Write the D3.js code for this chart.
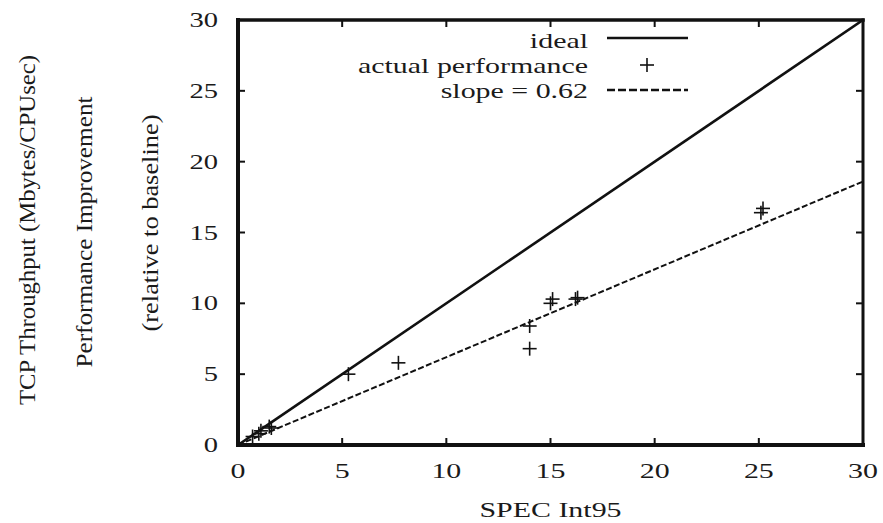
<!DOCTYPE html>
<html>
<head>
<meta charset="utf-8">
<script src="https://cdn.jsdelivr.net/npm/d3@7"></script>
<style>
  body { margin: 0; background: #fff; }
  text { font-family: "Liberation Serif", "DejaVu Serif", serif; fill: #1a1a1a; }
</style>
</head>
<body>
<div id="chart"></div>
<script>
// SPEC Int95 vs performance improvement

// measured points (x = SPEC Int95, y = improvement)
let specInt = [0.7, 1.0, 1.1, 1.5, 1.6, 5.3, 7.7, 14.0, 14.0, 15.0, 15.1, 16.2, 16.3, 25.1, 25.2];
let improvement = [0.6, 0.8, 1.0, 1.3, 1.2, 5.0, 5.8, 8.4, 6.8, 10.0, 10.3, 10.3, 10.4, 16.4, 16.7];

// fitted slope and axis stuff
let slope = 0.62;
let xTicks = [0, 5, 10, 15, 20, 25, 30];
let yTicks = [0, 5, 10, 15, 20, 25, 30];
let legendLabels = ["ideal", "actual performance", "slope = 0.62"];

let W = 883, H = 523;
let plotL = 238, plotR = 863, plotT = 20, plotB = 445;
let stretch = 1.36; // the figure's text is wide

let svg = d3.select("#chart").append("svg")
  .attr("width", W)
  .attr("height", H);

let x = d3.scaleLinear().domain([0, 30]).range([plotL, plotR]);
let y = d3.scaleLinear().domain([0, 30]).range([plotB, plotT]);

// clip to plot area
svg.append("clipPath").attr("id", "plot")
  .append("rect")
  .attr("x", plotL).attr("y", plotT)
  .attr("width", plotR - plotL).attr("height", plotB - plotT);

// tick marks (inward, all four sides)
let tickLen = 7;
let ticks = svg.append("g").attr("stroke", "#111").attr("stroke-width", 2);
xTicks.forEach(function(t) {
  ticks.append("line").attr("x1", x(t)).attr("x2", x(t)).attr("y1", plotB).attr("y2", plotB - tickLen);
  ticks.append("line").attr("x1", x(t)).attr("x2", x(t)).attr("y1", plotT).attr("y2", plotT + tickLen);
});
yTicks.forEach(function(t) {
  ticks.append("line").attr("x1", plotL).attr("x2", plotL + tickLen).attr("y1", y(t)).attr("y2", y(t));
  ticks.append("line").attr("x1", plotR).attr("x2", plotR - tickLen).attr("y1", y(t)).attr("y2", y(t));
});

// ideal line y = x
let line = d3.line().x(d => x(d[0])).y(d => y(d[1]));
svg.append("path")
  .attr("clip-path", "url(#plot)")
  .attr("d", line([[0, 0], [30, 30]]))
  .attr("fill", "none")
  .attr("stroke", "#111")
  .attr("stroke-width", 2.6);

// fitted line
svg.append("path")
  .attr("clip-path", "url(#plot)")
  .attr("d", line([[0, 0], [30, 30 * slope]]))
  .attr("fill", "none")
  .attr("stroke", "#111")
  .attr("stroke-width", 2)
  .attr("stroke-dasharray", "6,2.5");

// crosses for the actual performance
function cross(g, cx, cy, s) {
  g.append("line").attr("x1", cx - s).attr("x2", cx + s).attr("y1", cy).attr("y2", cy);
  g.append("line").attr("x1", cx).attr("x2", cx).attr("y1", cy - s).attr("y2", cy + s);
}
let pts = svg.append("g").attr("stroke", "#111").attr("stroke-width", 1.6);
specInt.forEach(function(d, i) {
  cross(pts, x(d), y(improvement[i]), 7);
});

// frame
let frame = svg.append("g").attr("stroke", "#111").attr("stroke-linecap", "square");
frame.append("line").attr("x1", plotL).attr("x2", plotL).attr("y1", plotT).attr("y2", plotB).attr("stroke-width", 4);
frame.append("line").attr("x1", plotL).attr("x2", plotR).attr("y1", plotB).attr("y2", plotB).attr("stroke-width", 4);
frame.append("line").attr("x1", plotL).attr("x2", plotR).attr("y1", plotT).attr("y2", plotT).attr("stroke-width", 3.5);
frame.append("line").attr("x1", plotR).attr("x2", plotR).attr("y1", plotT).attr("y2", plotB).attr("stroke-width", 3);

// wide text helper
function wideText(tx, ty, str, anchor, size) {
  return svg.append("text")
    .attr("transform", "translate(" + tx + "," + ty + ") scale(" + stretch + ",1)")
    .attr("text-anchor", anchor)
    .style("font-size", size + "px")
    .text(str);
}

// tick labels
xTicks.forEach(function(t) {
  wideText(x(t), 478, t, "middle", 22);
});
yTicks.forEach(function(t) {
  wideText(218, y(t) + 7, t, "end", 21);
});

// x label
wideText((plotL + plotR) / 2, 517, "SPEC Int95", "middle", 22);

// y labels (rotated)
let yLabels = [
  {t: "TCP Throughput (Mbytes/CPUsec)", bx: 35, cy: 230, len: 350},
  {t: "Performance Improvement", bx: 92, cy: 232, len: 271},
  {t: "(relative to baseline)", bx: 158, cy: 223, len: 217}
];
yLabels.forEach(function(l) {
  svg.append("text")
    .attr("transform", "translate(" + l.bx + "," + l.cy + ") rotate(-90)")
    .attr("text-anchor", "middle")
    .attr("textLength", l.len)
    .attr("lengthAdjust", "spacingAndGlyphs")
    .style("font-size", "23px")
    .text(l.t);
});

// legend
let legX = 588, legY = 48, legStep = 25;
legendLabels.forEach(function(lab, i) {
  wideText(legX, legY + i * legStep, lab, "end", 22);
});
svg.append("line")
  .attr("x1", 607).attr("x2", 688)
  .attr("y1", legY - 10).attr("y2", legY - 10)
  .attr("stroke", "#111").attr("stroke-width", 2.6);
let legPts = svg.append("g").attr("stroke", "#111").attr("stroke-width", 1.6);
cross(legPts, 647, legY + legStep - 8, 7);
svg.append("line")
  .attr("x1", 607).attr("x2", 688)
  .attr("y1", legY + 2 * legStep - 8).attr("y2", legY + 2 * legStep - 8)
  .attr("stroke", "#111").attr("stroke-width", 2.4)
  .attr("stroke-dasharray", "8,3");
</script>
</body>
</html>
